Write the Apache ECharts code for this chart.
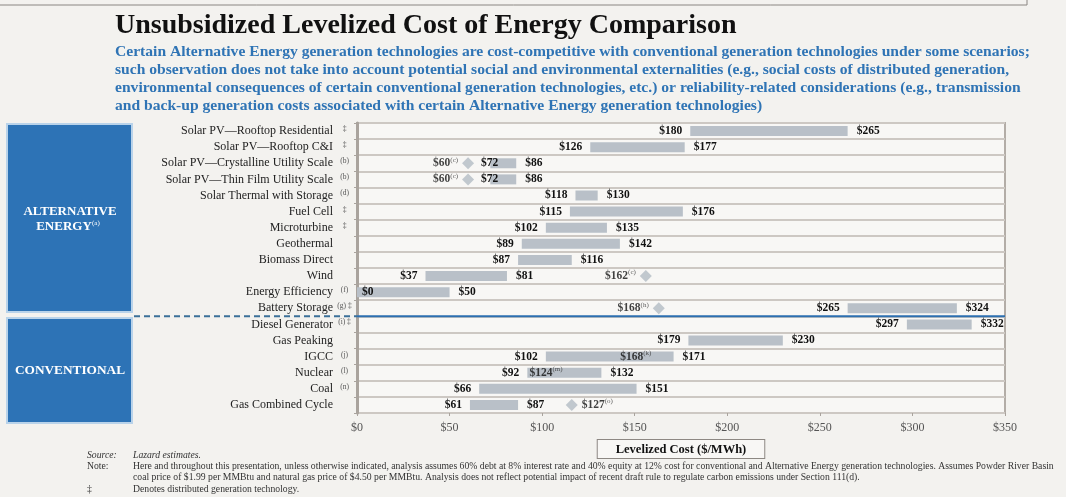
<!DOCTYPE html>
<html>
<head>
<meta charset="utf-8">
<script src="https://cdn.jsdelivr.net/npm/echarts@6/dist/echarts.min.js"></script>
<style>
html, body { margin: 0; padding: 0; background: #f3f2ef; }
#chart { width: 1066px; height: 497px; }
</style>
</head>
<body>
<div id="chart"></div>
<script>
// technologies, top to bottom
var technologies = [
    'Solar PV\u2014Rooftop Residential', 'Solar PV\u2014Rooftop C&I',
    'Solar PV\u2014Crystalline Utility Scale', 'Solar PV\u2014Thin Film Utility Scale',
    'Solar Thermal with Storage', 'Fuel Cell', 'Microturbine', 'Geothermal',
    'Biomass Direct', 'Wind', 'Energy Efficiency', 'Battery Storage',
    'Diesel Generator', 'Gas Peaking', 'IGCC', 'Nuclear', 'Coal', 'Gas Combined Cycle'
];
var techNotes = ['\u2021', '\u2021', '(b)', '(b)', '(d)', '\u2021', '\u2021', '', '', '',
    '(f)', '(g) \u2021', '(i) \u2021', '', '(j)', '(l)', '(n)', ''];

// cost range, $/MWh
var lowCost  = [180, 126, 72, 72, 118, 115, 102, 89, 87, 37, 0, 265, 297, 179, 102, 92, 66, 61];
var highCost = [265, 177, 86, 86, 130, 176, 135, 142, 116, 81, 50, 324, 332, 230, 171, 132, 151, 87];

// diamond markers (position) and their printed labels
var diamondRows = [2, 3, 9, 11, 17];
var diamondCost = [60, 60, 156, 163, 116];
var diamondText = ['$60', '$60', '$162', '$168', '$127'];
var diamondNote = ['(c)', '(c)', '(c)', '(h)', '(o)'];
var diamondSide = ['left', 'left', 'left', 'left', 'right'];

// labels printed inside bars
var innerRows = [14, 15];
var innerCost = [159, 111];
var innerText = ['$168', '$124'];
var innerNote = ['(k)', '(m)'];

var costTicks = [0, 50, 100, 150, 200, 250, 300, 350];

var serif = '"Liberation Serif", "DejaVu Serif", serif';
var valueFont = 'bold 11.5px ' + serif;

// 区间条 + 两端标签
var renderRange = function(params, api) {
    var row = api.value(0);
    var start = api.coord([api.value(1), row]);
    var end = api.coord([api.value(2), row]);
    var h = api.size([0, 1])[1] * 0.62;
    var lowX = start[0] - 8;
    var lowAlign = 'right';
    // 低值标签与菱形相撞时放到菱形右侧
    for (var j = 0; j < diamondRows.length; j++) {
        if (diamondRows[j] != row) {
            continue;
        }
        var d = api.coord([diamondCost[j], row]);
        if (lowX - 24 < d[0] + 6 && lowX > d[0]) {
            lowX = d[0] + 13;
            lowAlign = 'left';
        }
    }
    // 超出坐标区左侧时画在条内
    if (lowX - 20 < params.coordSys.x) {
        lowX = start[0] + 5;
        lowAlign = 'left';
    }
    return {
        type: 'group',
        children: [{
            type: 'rect',
            shape: { x: start[0], y: start[1] - h / 2, width: end[0] - start[0], height: h },
            style: { fill: '#b9c0c8' }
        }, {
            type: 'text',
            style: { text: '$' + api.value(1), x: lowX, y: start[1], align: lowAlign,
                verticalAlign: 'middle', font: valueFont, fill: '#111' }
        }, {
            type: 'text',
            style: { text: '$' + api.value(2), x: end[0] + 9, y: start[1], align: 'left',
                verticalAlign: 'middle', font: valueFont, fill: '#111' }
        }]
    };
};

var rangeData = [];
for (var i = 0; i < technologies.length; i++) {
    rangeData.push([i, lowCost[i], highCost[i]]);
}

var richValue = {
    v: { fontFamily: serif, fontWeight: 'bold', fontSize: 11.5, color: '#111', lineHeight: 14 },
    s: { fontFamily: serif, fontSize: 7, color: '#333', verticalAlign: 'top', lineHeight: 14 }
};

var diamondData = [];
for (var i = 0; i < diamondRows.length; i++) {
    diamondData.push({
        value: [diamondCost[i], diamondRows[i]],
        label: {
            show: true,
            position: diamondSide[i],
            distance: 4,
            formatter: '{v|' + diamondText[i] + '}{s|' + diamondNote[i] + '}',
            rich: richValue
        }
    });
}

var innerData = [];
for (var i = 0; i < innerRows.length; i++) {
    innerData.push({
        value: [innerCost[i], innerRows[i]],
        label: {
            show: true,
            position: 'left',
            distance: 0,
            formatter: '{v|' + innerText[i] + '}{s|' + innerNote[i] + '}',
            rich: richValue
        }
    });
}

var footFont = '9.7px ' + serif;
var footNotes = [
    { x: 87, y: 455, text: 'Source:', font: 'italic ' + footFont },
    { x: 133, y: 455, text: 'Lazard estimates.', font: 'italic ' + footFont },
    { x: 87, y: 466, text: 'Note:', font: footFont },
    { x: 133, y: 466, text: 'Here and throughout this presentation, unless otherwise indicated, analysis assumes 60% debt at 8% interest rate and 40% equity at 12% cost for conventional and Alternative Energy generation technologies. Assumes Powder River Basin', font: footFont },
    { x: 133, y: 477, text: 'coal price of $1.99 per MMBtu and natural gas price of $4.50 per MMBtu. Analysis does not reflect potential impact of recent draft rule to regulate carbon emissions under Section 111(d).', font: footFont },
    { x: 87, y: 489, text: '\u2021', font: footFont },
    { x: 133, y: 489, text: 'Denotes distributed generation technology.', font: footFont }
];

var graphics = [{
    type: 'polyline',
    shape: { points: [[0, 5], [1027, 5], [1027, 0]] },
    style: { stroke: '#8a8682', lineWidth: 1, fill: null }
}, {
    type: 'rect',
    shape: { x: 7, y: 124, width: 125, height: 188 },
    style: { fill: '#2d73b6', stroke: '#b9d3ea', lineWidth: 2 }
}, {
    type: 'text',
    style: { text: 'ALTERNATIVE', x: 70, y: 212, align: 'center', verticalAlign: 'middle',
        font: 'bold 13px ' + serif, fill: '#fff' }
}, {
    type: 'text',
    style: { text: 'ENERGY', x: 64, y: 227, align: 'center', verticalAlign: 'middle',
        font: 'bold 13px ' + serif, fill: '#fff' }
}, {
    type: 'text',
    style: { text: '(a)', x: 92, y: 223, align: 'left', verticalAlign: 'middle',
        font: '7px ' + serif, fill: '#fff' }
}, {
    type: 'rect',
    shape: { x: 7, y: 318, width: 125, height: 105 },
    style: { fill: '#2d73b6', stroke: '#b9d3ea', lineWidth: 2 }
}, {
    type: 'text',
    style: { text: 'CONVENTIONAL', x: 70, y: 371, align: 'center', verticalAlign: 'middle',
        font: 'bold 13.3px ' + serif, fill: '#fff' }
}];
for (var i = 0; i < footNotes.length; i++) {
    var f = footNotes[i];
    graphics.push({
        type: 'text',
        style: { text: f.text, x: f.x, y: f.y, verticalAlign: 'middle', font: f.font, fill: '#333' }
    });
}

var myChart = echarts.init(document.getElementById('chart'));

var option = {
    backgroundColor: '#f3f2ef',
    animation: false,
    title: {
        text: 'Unsubsidized Levelized Cost of Energy Comparison',
        subtext: 'Certain Alternative Energy generation technologies are cost-competitive with conventional generation technologies under some scenarios;\n' +
            'such observation does not take into account potential social and environmental externalities (e.g., social costs of distributed generation,\n' +
            'environmental consequences of certain conventional generation technologies, etc.) or reliability-related considerations (e.g., transmission\n' +
            'and back-up generation costs associated with certain Alternative Energy generation technologies)',
        left: 110,
        top: 7,
        itemGap: 3,
        textStyle: { fontFamily: serif, fontWeight: 'bold', fontSize: 28, color: '#111' },
        subtextStyle: { fontFamily: serif, fontWeight: 'bold', fontSize: 15.6, color: '#2f74b5', lineHeight: 18 }
    },
    grid: {
        left: 357,
        right: 61,
        top: 123,
        bottom: 84,
        show: true,
        backgroundColor: '#f8f7f5',
        borderColor: '#b3ada7',
        borderWidth: 2
    },
    xAxis: {
        type: 'value',
        min: costTicks[0],
        max: costTicks[costTicks.length - 1],
        interval: 50,
        name: 'Levelized Cost ($/MWh)',
        nameLocation: 'middle',
        nameGap: 25,
        nameTextStyle: {
            fontFamily: serif, fontWeight: 'bold', fontSize: 12.5, color: '#111',
            borderColor: '#8d8883', borderWidth: 1, padding: [3, 18, 2, 18],
            backgroundColor: '#f8f7f5'
        },
        axisLine: { lineStyle: { color: '#a9a39d', width: 2 } },
        axisTick: { show: true, length: 3, lineStyle: { color: '#a9a39d' } },
        splitLine: { show: false },
        axisLabel: {
            margin: 9,
            fontFamily: serif,
            fontSize: 12,
            color: '#555',
            formatter: function(v) { return '$' + v; }
        }
    },
    yAxis: {
        type: 'category',
        inverse: true,
        data: technologies,
        axisLine: { lineStyle: { color: '#a9a39d', width: 3 } },
        axisTick: { show: true, length: 3, lineStyle: { color: '#a9a39d' } },
        splitLine: { show: true, lineStyle: { color: '#cdc8c3', width: 2 } },
        axisLabel: {
            margin: 4,
            formatter: function(value, index) {
                return '{n|' + value + '}{m|' + techNotes[index] + '}';
            },
            rich: {
                n: { fontFamily: serif, fontSize: 12, color: '#222' },
                m: { fontFamily: serif, fontSize: 7.5, color: '#555', width: 17, align: 'left',
                    padding: [0, 0, 4, 3] }
            }
        }
    },
    series: [{
        type: 'custom',
        renderItem: renderRange,
        encode: { x: [1, 2], y: 0 },
        data: rangeData,
        z: 3
    }, {
        type: 'scatter',
        symbol: 'diamond',
        symbolSize: [12, 12],
        itemStyle: { color: '#b3bbc4' },
        data: diamondData,
        z: 4
    }, {
        type: 'scatter',
        symbolSize: 0,
        data: innerData,
        z: 5
    }],
    graphic: graphics
};
myChart.setOption(option);

// 分隔线: Alternative / Conventional
var yA = myChart.convertToPixel({ yAxisIndex: 0 }, 11);
var yB = myChart.convertToPixel({ yAxisIndex: 0 }, 12);
var sepY = (yA + yB) / 2;
var x0 = myChart.convertToPixel({ xAxisIndex: 0 }, 0);
var x1 = myChart.convertToPixel({ xAxisIndex: 0 }, 350);
graphics.push({
    type: 'line',
    shape: { x1: 134, y1: sepY, x2: x0, y2: sepY },
    style: { stroke: '#3b7099', lineWidth: 2, lineDash: [6, 4] },
    z: 10
}, {
    type: 'line',
    shape: { x1: x0, y1: sepY, x2: x1, y2: sepY },
    style: { stroke: '#2d6fb0', lineWidth: 2 },
    z: 10
});
myChart.setOption({ graphic: graphics });
</script>
</body>
</html>
